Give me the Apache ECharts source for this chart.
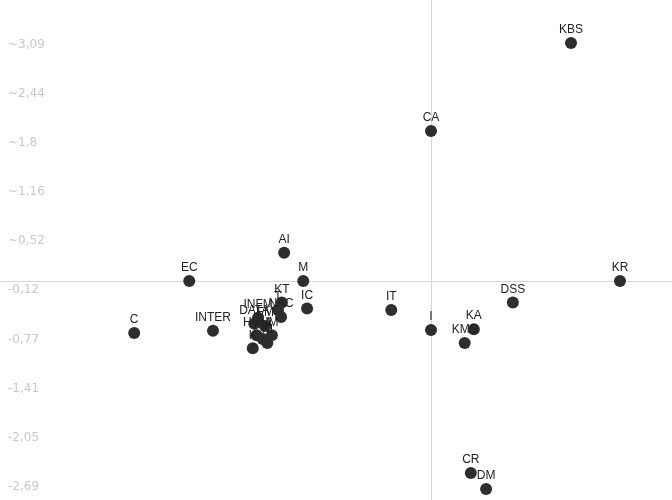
<!DOCTYPE html>
<html>
<head>
<meta charset="utf-8">
<script src="https://cdn.jsdelivr.net/npm/echarts@6/dist/echarts.min.js"></script>
<style>
  html, body { margin: 0; padding: 0; background: #fff; }
  #chart { width: 672px; height: 500px; }
</style>
</head>
<body>
<div id="chart"></div>
<script>
// point names and coordinates
const names = ['KBS', 'CA', 'AI', 'EC', 'M', 'KR', 'DSS', 'IT', 'I', 'KA', 'KMS', 'C', 'INTER',
  'CR', 'DM', 'IC', 'KT', 'T', 'NAC', 'INFM', 'DATA', 'EM', 'HRM', 'IM', 'KM', 'KI', 'K'];
const xVals = [1.83, 0.00, -1.92, -3.16, -1.67, 2.47, 1.07, -0.52, 0.00, 0.56, 0.44, -3.88, -2.85,
  0.52, 0.72, -1.62, -1.95, -2.00, -1.96, -2.26, -2.31, -2.17, -2.28, -2.08, -2.20, -2.14, -2.33];
const yVals = [3.11, 1.96, 0.37, 0.00, 0.00, 0.00, -0.28, -0.38, -0.64, -0.63, -0.81, -0.68, -0.65,
  -2.51, -2.72, -0.36, -0.28, -0.38, -0.47, -0.48, -0.56, -0.59, -0.71, -0.71, -0.76, -0.81, -0.88];

// y tick values and their labels
const yTickValues = [3.09, 2.44, 1.8, 1.16, 0.52, -0.12, -0.77, -1.41, -2.05, -2.69];
const yTickLabels = ['~3,09', '~2,44', '~1,8', '~1,16', '~0,52', '-0,12', '-0,77', '-1,41', '-2,05', '-2,69'];

const myChart = echarts.init(document.getElementById('chart'));
myChart.setOption({
  animation: false,
  grid: { left: 0, right: 0, top: 0, bottom: 0 },
  xAxis: {
    type: 'value',
    min: -5.634,
    max: 3.15,
    axisLine: { show: false },
    axisTick: { show: false },
    axisLabel: { show: false },
    splitLine: { show: false }
  },
  yAxis: {
    type: 'value',
    min: -2.863,
    max: 3.673,
    axisLine: { show: false },
    axisTick: { show: false },
    splitLine: { show: false },
    axisLabel: {
      inside: true,
      margin: 8,
      customValues: yTickValues,
      color: '#c8c8c8',
      fontSize: 12,
      fontFamily: 'DejaVu Sans',
      formatter: function (v) {
        const i = yTickValues.findIndex(t => Math.abs(t - v) < 1e-6);
        return i >= 0 ? yTickLabels[i] : '';
      }
    }
  },
  series: [
    {
      type: 'line',
      data: [],
      z: 1,
      markLine: {
        silent: true,
        z: 1,
        symbol: ['none', 'none'],
        label: { show: false },
        lineStyle: { color: '#d6d6d6', width: 1, type: 'solid' },
        data: [{ xAxis: 0 }, { yAxis: 0 }]
      }
    },
    {
      type: 'scatter',
      z: 3,
      symbolSize: 12,
      itemStyle: { color: '#2e2e2e', opacity: 1 },
      label: {
        show: true,
        position: 'top',
        distance: 1,
        color: '#222',
        fontSize: 12,
        fontFamily: 'Liberation Sans',
        formatter: p => p.data[2]
      },
      data: names.map((n, i) => [xVals[i], yVals[i], n])
    }
  ]
});
</script>
</body>
</html>
